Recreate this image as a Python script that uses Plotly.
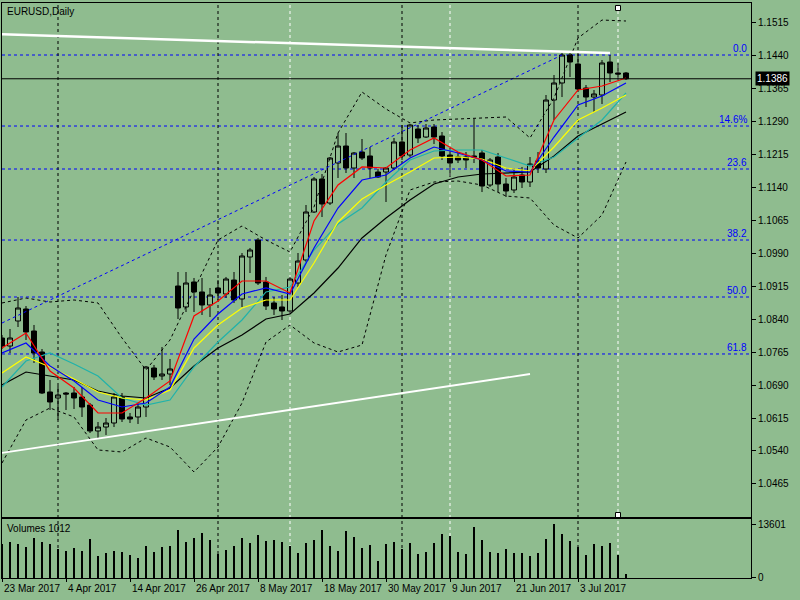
import plotly.graph_objects as go

# EURUSD daily bars, index 0 = 23 Mar 2017 ... 78 = 11 Jul 2017
opens = [1.07968, 1.07786, 1.08355, 1.08627, 1.08127, 1.0765, 1.06741, 1.06605, 1.06718, 1.06718,
         1.06627, 1.06445, 1.05855, 1.05945, 1.06036, 1.06627, 1.06173, 1.06173, 1.064, 1.07286,
         1.07105, 1.0715, 1.0915, 1.08673, 1.09241, 1.09014, 1.08718, 1.09105, 1.08968, 1.09286,
         1.08855, 1.09809, 1.10195, 1.09241, 1.08764, 1.08673, 1.08582, 1.09218, 1.09741, 1.10832,
         1.11582, 1.11036, 1.11945, 1.12332, 1.11832, 1.12195, 1.12105, 1.11741, 1.11741, 1.11832,
         1.12423, 1.12127, 1.12718, 1.12536, 1.12764, 1.12559, 1.12127, 1.12082, 1.12082, 1.12105,
         1.12173, 1.11445, 1.12082, 1.11468, 1.11332, 1.11673, 1.11514, 1.11991, 1.11809, 1.13377,
         1.13764, 1.1440, 1.14195, 1.1365, 1.13445, 1.13491, 1.14241, 1.13991, 1.13991]
highs = [1.08036, 1.08173, 1.089, 1.08695, 1.08264, 1.07718, 1.07014, 1.06877, 1.06741, 1.06855,
         1.06855, 1.06491, 1.06059, 1.0615, 1.06718, 1.06718, 1.06264, 1.06514, 1.07332, 1.07355,
         1.07764, 1.07491, 1.09468, 1.09468, 1.09332, 1.09332, 1.09105, 1.09286, 1.09355, 1.09468,
         1.099, 1.10014, 1.10241, 1.09355, 1.089, 1.08945, 1.09355, 1.099, 1.10991, 1.11627,
         1.11695, 1.12082, 1.12627, 1.12627, 1.12195, 1.12491, 1.12309, 1.11809, 1.11855, 1.12514,
         1.12809, 1.12832, 1.12809, 1.12832, 1.12832, 1.1265, 1.12286, 1.12195, 1.12195, 1.12945,
         1.12241, 1.12059, 1.12173, 1.11605, 1.11786, 1.11855, 1.12082, 1.12195, 1.13491, 1.13945,
         1.14445, 1.14468, 1.14445, 1.13718, 1.13605, 1.14286, 1.1440, 1.14218, 1.14014]
lows = [1.07718, 1.07627, 1.08218, 1.07923, 1.074, 1.06695, 1.06332, 1.06105, 1.06332, 1.06355,
        1.06173, 1.05809, 1.05695, 1.05764, 1.05945, 1.06059, 1.06036, 1.06014, 1.06173, 1.07014,
        1.07014, 1.069, 1.084, 1.08559, 1.08559, 1.08491, 1.08445, 1.08832, 1.08877, 1.08764,
        1.08673, 1.09445, 1.09173, 1.08605, 1.08491, 1.08377, 1.08514, 1.09127, 1.09695, 1.10809,
        1.10718, 1.10991, 1.11605, 1.11718, 1.11605, 1.12014, 1.11605, 1.11605, 1.11059, 1.11786,
        1.12014, 1.12082, 1.124, 1.12514, 1.12377, 1.12014, 1.11627, 1.11945, 1.11832, 1.11945,
        1.11286, 1.114, 1.11286, 1.11173, 1.11264, 1.11377, 1.114, 1.11718, 1.11718, 1.12923,
        1.13445, 1.1390, 1.13605, 1.13218, 1.13105, 1.13286, 1.13786, 1.13832, 1.13832]
closes = [1.07786, 1.07968, 1.0865, 1.08105, 1.07627, 1.06718, 1.06514, 1.06673, 1.06695, 1.06605,
          1.064, 1.05855, 1.05945, 1.06036, 1.06627, 1.06127, 1.06127, 1.064, 1.07309, 1.07082,
          1.0715, 1.07264, 1.0865, 1.09218, 1.09014, 1.08718, 1.08945, 1.08991, 1.09309, 1.08832,
          1.09832, 1.09968, 1.09218, 1.08695, 1.08627, 1.08582, 1.09309, 1.09718, 1.10832, 1.11582,
          1.11014, 1.12059, 1.12332, 1.11832, 1.12173, 1.12059, 1.11832, 1.11627, 1.11832, 1.12423,
          1.12105, 1.12809, 1.12514, 1.12741, 1.12536, 1.12105, 1.11945, 1.12014, 1.12014, 1.12082,
          1.11423, 1.12014, 1.11468, 1.11309, 1.11627, 1.11514, 1.11923, 1.11832, 1.13377, 1.13764,
          1.1440, 1.14241, 1.13627, 1.13445, 1.13514, 1.14218, 1.13991, 1.13968, 1.1386]
volumes = [8500, 9067, 8564, 7808, 10075, 9067, 8564, 7304, 6800, 7556,
           6800, 9823, 5541, 6297, 6800, 6549, 5793, 5037, 8060, 6549,
           7808, 8060, 12090, 9067, 10075, 11334, 9571, 6045, 7052, 8060,
           10075, 8816, 10831, 9319, 9571, 9067, 8060, 6297, 8816, 9571,
           12090, 8060, 6800, 11838, 10327, 7556, 8312, 4282, 8564, 9067,
           7304, 8816, 6045, 6549, 8816, 11082, 10579, 6549, 6045, 12845,
           9571, 6549, 6297, 7304, 6297, 6297, 5541, 6297, 9823, 13601,
           11082, 9319, 7724, 5793, 8564, 8060, 8816, 5793, 1012]
bars = list(range(len(closes)))

# indicator lines, read every third bar
ma_bars = list(range(0, 79, 3))
ma_red = [1.07741, 1.08082, 1.07218, 1.06832, 1.06264, 1.06264, 1.06605, 1.06991, 1.08468, 1.08809,
          1.09264, 1.09264, 1.08991, 1.10627, 1.11445, 1.11855, 1.11832, 1.12241, 1.12514, 1.12195,
          1.12014, 1.1165, 1.11673, 1.12923, 1.13605, 1.13695, 1.13877]
ma_blue = [1.07627, 1.07855, 1.07332, 1.06991, 1.06559, 1.064, 1.06491, 1.06855, 1.07945, 1.08514,
           1.08968, 1.09105, 1.08968, 1.10014, 1.10923, 1.11559, 1.11673, 1.12059, 1.12309, 1.12173,
           1.12014, 1.11764, 1.11741, 1.12536, 1.13264, 1.13468, 1.13764]
ma_yellow = [1.07173, 1.07536, 1.07309, 1.07036, 1.06741, 1.06605, 1.06559, 1.06786, 1.07741, 1.08264,
             1.0865, 1.08832, 1.08832, 1.09673, 1.10605, 1.11127, 1.11445, 1.11741, 1.12059, 1.12082,
             1.12036, 1.11832, 1.11764, 1.12309, 1.12923, 1.13195, 1.13491]
ma_teal = [1.06855, 1.07445, 1.07627, 1.07377, 1.07105, 1.06605, 1.06445, 1.06559, 1.07309, 1.07877,
           1.08377, 1.09014, 1.09127, 1.09968, 1.10559, 1.10923, 1.11514, 1.12014, 1.12218, 1.12241,
           1.12241, 1.12059, 1.11877, 1.12082, 1.12514, 1.12923, 1.13536]
ma_black = [1.069, 1.07195, 1.07105, 1.07014, 1.06764, 1.0665, 1.06605, 1.06832, 1.07332, 1.07741,
            1.08036, 1.084, 1.08514, 1.08991, 1.09559, 1.10241, 1.10695, 1.11105, 1.11468, 1.11627,
            1.11695, 1.11718, 1.11741, 1.12105, 1.12559, 1.12832, 1.13105]
bb_upper = [1.08764, 1.08877, 1.08786, 1.08832, 1.08764, 1.07968, 1.07241, 1.07923, 1.09059, 1.10195,
            1.10514, 1.10195, 1.09923, 1.10945, 1.12627, 1.13559, 1.13173, 1.12855, 1.12923, 1.12945,
            1.12968, 1.12991, 1.12514, 1.13423, 1.14786, 1.15195, 1.15173]
bb_lower = [1.05127, 1.06105, 1.06377, 1.06173, 1.05423, 1.05377, 1.05695, 1.05491, 1.04923, 1.05491,
            1.06491, 1.07877, 1.08264, 1.07855, 1.0765, 1.07809, 1.09855, 1.11332, 1.11514, 1.11536,
            1.11445, 1.11195, 1.1115, 1.10536, 1.10241, 1.10764, 1.11968]

# drawn objects
top_line_bars = [0, 76]
top_line_prices = [1.14870, 1.14445]
low_line_bars = [0, 66]
low_line_prices = [1.05355, 1.0715]
channel_bars = [0, 70]
channel_prices = [1.08309, 1.1440]
fib_labels = ["0.0", "14.6%", "23.6", "38.2", "50.0", "61.8"]
fib_prices = [1.1440, 1.12786, 1.11809, 1.10195, 1.089, 1.07605]
month_bars = [7, 27, 50, 72]
marker_bars = [36, 56, 77]

price_ticks = [1.0465, 1.0540, 1.0615, 1.0690, 1.0765, 1.0840, 1.0915, 1.0990,
               1.1065, 1.1140, 1.1215, 1.1290, 1.1365, 1.1440, 1.1515]
date_bars = [0, 8, 16, 24, 32, 40, 48, 56, 64, 72]
date_labels = ["23 Mar 2017", "4 Apr 2017", "14 Apr 2017", "26 Apr 2017", "8 May 2017",
               "18 May 2017", "30 May 2017", "9 Jun 2017", "21 Jun 2017", "3 Jul 2017"]
vol_ticks = [0, 13601]

BG = "#8FBC8F"
FONT = "Liberation Sans, Arial, sans-serif"

fig = go.Figure()

fig.add_trace(go.Candlestick(
    x=bars, open=opens, high=highs, low=lows, close=closes,
    increasing=dict(line=dict(color="black", width=1), fillcolor=BG),
    decreasing=dict(line=dict(color="black", width=1), fillcolor="black"),
    whiskerwidth=0, hoverinfo="skip",
))

for vals, color in [(ma_black, "black"), (ma_teal, "#20B2AA"), (ma_yellow, "#FFFF00"),
                    (ma_blue, "#0000FF"), (ma_red, "#FF0000")]:
    fig.add_trace(go.Scatter(x=ma_bars, y=vals, mode="lines",
                             line=dict(color=color, width=1.2)))

for vals in [bb_upper, bb_lower]:
    fig.add_trace(go.Scatter(x=ma_bars, y=vals, mode="lines",
                             line=dict(color="black", width=1, dash="3px,3px")))

fig.add_trace(go.Scatter(x=top_line_bars, y=top_line_prices, mode="lines",
                         line=dict(color="white", width=2.5)))
fig.add_trace(go.Scatter(x=low_line_bars, y=low_line_prices, mode="lines",
                         line=dict(color="white", width=1.8)))
fig.add_trace(go.Scatter(x=channel_bars, y=channel_prices, mode="lines",
                         line=dict(color="#0000FF", width=1, dash="3px,3px")))

# selection handles of the last vertical line
fig.add_trace(go.Scatter(x=[marker_bars[-1], marker_bars[-1]], y=[1.15468, 1.03945],
                         mode="markers", cliponaxis=False,
                         marker=dict(symbol="square", size=5, color="white",
                                     line=dict(color="black", width=1))))

fig.add_trace(go.Bar(x=bars, y=volumes, xaxis="x2", yaxis="y2", width=0.22,
                     marker=dict(color="black", line=dict(width=0))))

shapes = []
for p in fib_prices:
    shapes.append(dict(type="line", xref="paper", x0=0, x1=1, yref="y", y0=p, y1=p,
                       line=dict(color="#0000FF", width=1, dash="3px,3px"), layer="below"))
shapes.append(dict(type="line", xref="paper", x0=0, x1=1, yref="y",
                   y0=closes[-1], y1=closes[-1], line=dict(color="black", width=1)))
for b in month_bars:
    shapes.append(dict(type="line", xref="x", x0=b, x1=b, yref="paper", y0=0, y1=1,
                       line=dict(color="black", width=1, dash="3px,3px"), layer="below"))
for b in marker_bars:
    shapes.append(dict(type="line", xref="x", x0=b, x1=b, yref="paper", y0=0, y1=1,
                       line=dict(color="white", width=1, dash="3px,3px"), layer="below"))

annotations = [
    dict(text="EURUSD,Daily", xref="paper", yref="paper", x=0, y=1, xanchor="left",
         yanchor="top", xshift=3, yshift=-1, showarrow=False, font=dict(size=10)),
    dict(text=f"Volumes {volumes[-1]}", xref="paper", yref="paper", x=0, y=0.1026,
         xanchor="left", yanchor="top", xshift=3, yshift=-2, showarrow=False,
         font=dict(size=10)),
    dict(text=f"{closes[-1]:.4f}", xref="paper", yref="y", x=1, y=closes[-1],
         xanchor="left", yanchor="middle", xshift=4, showarrow=False,
         bgcolor="black", borderpad=1, font=dict(size=10, color="white")),
]
for lab, p in zip(fib_labels, fib_prices):
    annotations.append(dict(text=lab, xref="paper", yref="y", x=1, y=p, xanchor="right",
                            yanchor="bottom", xshift=-2, yshift=-1, showarrow=False,
                            font=dict(size=10, color="#0000FF")))
for b, lab in zip(date_bars, date_labels):
    annotations.append(dict(text=lab, xref="x2", yref="paper", x=b, y=0, xanchor="left",
                            yanchor="top", yshift=-3, showarrow=False, font=dict(size=10)))

axis_common = dict(showgrid=False, zeroline=False, showline=True, mirror=True,
                   linecolor="black", linewidth=1)

fig.update_layout(
    width=800, height=600,
    margin=dict(l=2, r=49, t=3, b=22),
    paper_bgcolor=BG, plot_bgcolor=BG,
    font=dict(family=FONT, size=10, color="black"),
    showlegend=False,
    boxgap=0.35, boxgroupgap=0.05,
    bargap=0,
    shapes=shapes,
    annotations=annotations,
    xaxis=dict(domain=[0, 1], range=[0, 93.625], anchor="y", showticklabels=False,
               ticks="", rangeslider=dict(visible=False), **axis_common),
    yaxis=dict(domain=[0.1061, 1], range=[1.0390, 1.15582], side="right",
               tickvals=price_ticks, ticktext=[f"{v:.4f}" for v in price_ticks],
               ticks="outside", ticklen=4, tickcolor="black", **axis_common),
    xaxis2=dict(domain=[0, 1], range=[0, 93.625], anchor="y2", tickvals=date_bars,
                showticklabels=False, ticks="outside", ticklen=3, tickcolor="black",
                **axis_common),
    yaxis2=dict(domain=[0, 0.1026], range=[0, 14861], side="right", tickvals=vol_ticks,
                ticktext=[str(v) for v in vol_ticks], ticks="outside", ticklen=4,
                tickcolor="black", **axis_common),
)

# the page body has a default 8px margin; drop it so the figure fills the window
fig.write_html("out.html", config={"displayModeBar": False},
               post_script="document.body.style.margin='0';")
